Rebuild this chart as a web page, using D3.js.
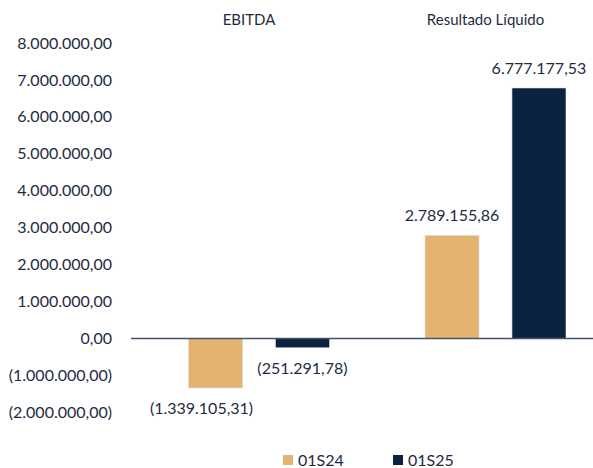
<!DOCTYPE html>
<html>
<head>
<meta charset="utf-8">
<script src="https://cdn.jsdelivr.net/npm/d3@7"></script>
<style>
  body { margin: 0; background: #fff; }
  text { font-family: Lato, "Open Sans", sans-serif; }
</style>
</head>
<body>
<div id="chart"></div>
<script>
// data
const categories = ["EBITDA", "Resultado Líquido"];
const seriesNames = ["01S24", "01S25"];
const values01S24 = [-1339105.31, 2789155.86];
const values01S25 = [-251291.78, 6777177.53];
const yTicks = [-2000000, -1000000, 0, 1000000, 2000000, 3000000, 4000000, 5000000, 6000000, 7000000, 8000000];
const seriesColors = ["#e3b36f", "#0b2341"];

const width = 593, height = 468;
const textColor = "#1e2c3f";

const svg = d3.select("#chart").append("svg")
    .attr("width", width)
    .attr("height", height);

// número no formato pt-BR, negativos entre parênteses
const ptBR = d3.formatLocale({ decimal: ",", thousands: ".", grouping: [3], currency: ["R$", ""] });
const fmtNum = ptBR.format(",.2f");
const fmt = v => v < 0 ? "(" + fmtNum(-v) + ")" : fmtNum(v);

const y = d3.scaleLinear()
    .domain([-2000000, 8000000])
    .range([412.4, 42.8]);

const x0 = d3.scaleBand()
    .domain(categories)
    .range([140.75, 613.75])
    .paddingInner(0.404)
    .paddingOuter(0.202);

const x1 = d3.scaleBand()
    .domain(seriesNames)
    .range([0, x0.bandwidth()])
    .paddingInner(0.379);

const rows = categories.map((c, i) => ({
    cat: c,
    vals: [
        { s: seriesNames[0], v: values01S24[i] },
        { s: seriesNames[1], v: values01S25[i] }
    ]
}));

// eixo y (só rótulos)
svg.append("g")
    .selectAll("text")
    .data(yTicks)
    .join("text")
    .attr("x", 112)
    .attr("y", d => y(d))
    .attr("dy", "0.36em")
    .attr("text-anchor", "end")
    .attr("font-size", 16)
    .attr("fill", textColor)
    .text(d => fmt(d));

// barras
const groups = svg.append("g")
    .selectAll("g")
    .data(rows)
    .join("g")
    .attr("transform", d => `translate(${x0(d.cat)},0)`);

groups.selectAll("rect")
    .data(d => d.vals)
    .join("rect")
    .attr("x", d => x1(d.s))
    .attr("width", x1.bandwidth())
    .attr("y", d => y(Math.max(0, d.v)))
    .attr("height", d => Math.abs(y(d.v) - y(0)))
    .attr("fill", (d, i) => seriesColors[i])
    .attr("stroke", "#d8dde4")
    .attr("stroke-width", 0.6);

// rótulos de dados
groups.selectAll("text")
    .data(d => d.vals)
    .join("text")
    .attr("x", (d, i) => x1(d.s) + x1.bandwidth() / 2 + (d.v < -1000000 ? -14 : 0))
    .attr("y", d => d.v >= 0 ? y(d.v) - 14 : y(d.v) + 26)
    .attr("text-anchor", "middle")
    .attr("font-size", 16)
    .attr("fill", textColor)
    .text(d => fmt(d.v));

// linha do zero
svg.append("line")
    .attr("x1", 131)
    .attr("x2", 593)
    .attr("y1", y(0))
    .attr("y2", y(0))
    .attr("stroke", "#44546a")
    .attr("stroke-width", 1.5);

// títulos das categorias
svg.append("g")
    .selectAll("text")
    .data(categories)
    .join("text")
    .attr("x", d => x0(d) + x0.bandwidth() / 2 - 10)
    .attr("y", 25)
    .attr("text-anchor", "middle")
    .attr("font-size", 15)
    .attr("fill", textColor)
    .text(d => d);

// legenda
const legend = svg.append("g")
    .selectAll("g")
    .data(seriesNames)
    .join("g")
    .attr("transform", (d, i) => `translate(${283 + i * 110},455)`);

legend.append("rect")
    .attr("width", 10)
    .attr("height", 10)
    .attr("fill", (d, i) => seriesColors[i]);

legend.append("text")
    .attr("x", 15)
    .attr("y", 10.5)
    .attr("font-size", 16)
    .attr("fill", textColor)
    .text(d => d);
</script>
</body>
</html>
